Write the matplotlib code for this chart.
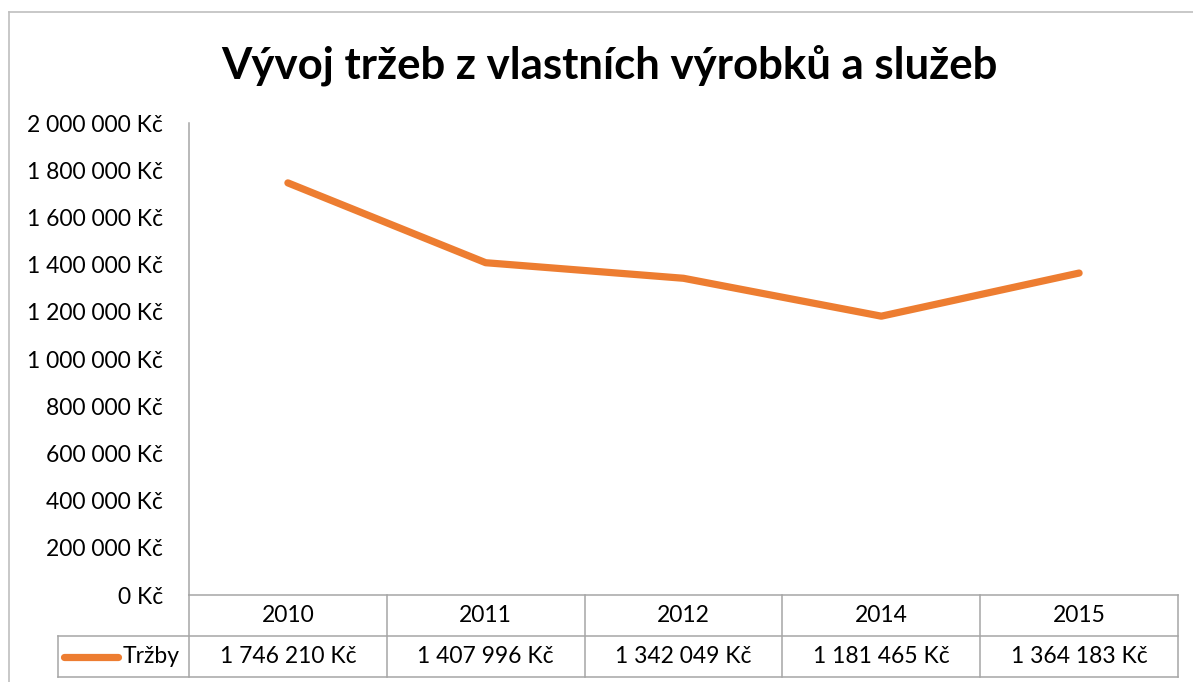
import matplotlib.pyplot as plt
from matplotlib.lines import Line2D
from matplotlib.ticker import FuncFormatter

plt.rcParams['font.family'] = ['Lato', 'DejaVu Sans']

# data
years = ['2010', '2011', '2012', '2014', '2015']
trzby = [1746210, 1407996, 1342049, 1181465, 1364183]
series_name = 'Tržby'
title = 'Vývoj tržeb z vlastních výrobků a služeb'

line_color = '#ED7D31'
grid_color = '#A6A6A6'
fs = 16.5


def kc(v, pos=None):
    return f'{v:,.0f}'.replace(',', ' ') + ' Kč'


W, H = 1193, 682
fig = plt.figure(figsize=(W / 100, H / 100), dpi=100)

# plot area in pixel terms
left, right, top, bottom = 189, 1178, 123, 595
ax = fig.add_axes([left / W, 1 - bottom / H, (right - left) / W, (bottom - top) / H])

x = list(range(len(years)))
ax.plot(x, trzby, color=line_color, lw=5.2, solid_capstyle='round', solid_joinstyle='round')
ax.set_xlim(-0.5, len(years) - 0.5)
ax.set_ylim(0, 2000000)
ax.set_yticks(range(0, 2000001, 200000))
ax.yaxis.set_major_formatter(FuncFormatter(kc))
ax.tick_params(axis='y', length=0, labelsize=fs, pad=18.5)
ax.set_xticks([])
for s in ['top', 'right', 'bottom']:
    ax.spines[s].set_visible(False)
ax.spines['left'].set_color(grid_color)
ax.spines['left'].set_linewidth(1.1)

# data table below the plot (axes coordinates)
row_h = 41 / (bottom - top)
leg_x0 = (58 - left) / (right - left)
n = len(years)
lk = dict(color=grid_color, lw=1.1, transform=ax.transAxes, clip_on=False)
ax.plot([0, 1], [0, 0], **lk)
ax.plot([leg_x0, 1], [-row_h, -row_h], **lk)
ax.plot([leg_x0, 1], [-2 * row_h, -2 * row_h], **lk)
ax.plot([leg_x0, leg_x0], [-row_h, -2 * row_h], **lk)
for i in range(n + 1):
    ax.plot([i / n, i / n], [0, -2 * row_h], **lk)
for i in range(n):
    cx = (i + 0.5) / n
    ax.text(cx, -0.5 * row_h, years[i], transform=ax.transAxes,
            ha='center', va='center', fontsize=fs)
    ax.text(cx, -1.5 * row_h, kc(trzby[i]), transform=ax.transAxes,
            ha='center', va='center', fontsize=fs)

# legend key in the row header cell
lx0 = (64 - left) / (right - left)
lx1 = (118 - left) / (right - left)
ax.add_line(Line2D([lx0, lx1], [-1.5 * row_h, -1.5 * row_h], color=line_color, lw=5.2,
                   solid_capstyle='round', transform=ax.transAxes, clip_on=False))
ax.text((123 - left) / (right - left), -1.5 * row_h, series_name, transform=ax.transAxes,
        ha='left', va='center', fontsize=fs)

# chart border
fig.add_artist(Line2D([9 / W, 9 / W], [0, 1 - 12 / H], color='#BFBFBF', lw=1.2))
fig.add_artist(Line2D([9 / W, 1], [1 - 12 / H, 1 - 12 / H], color='#BFBFBF', lw=1.2))

fig.text(609 / W, 1 - 65 / H, title, ha='center', va='center', fontsize=31.5, fontweight='bold')

fig.savefig('out.png', dpi=100)
